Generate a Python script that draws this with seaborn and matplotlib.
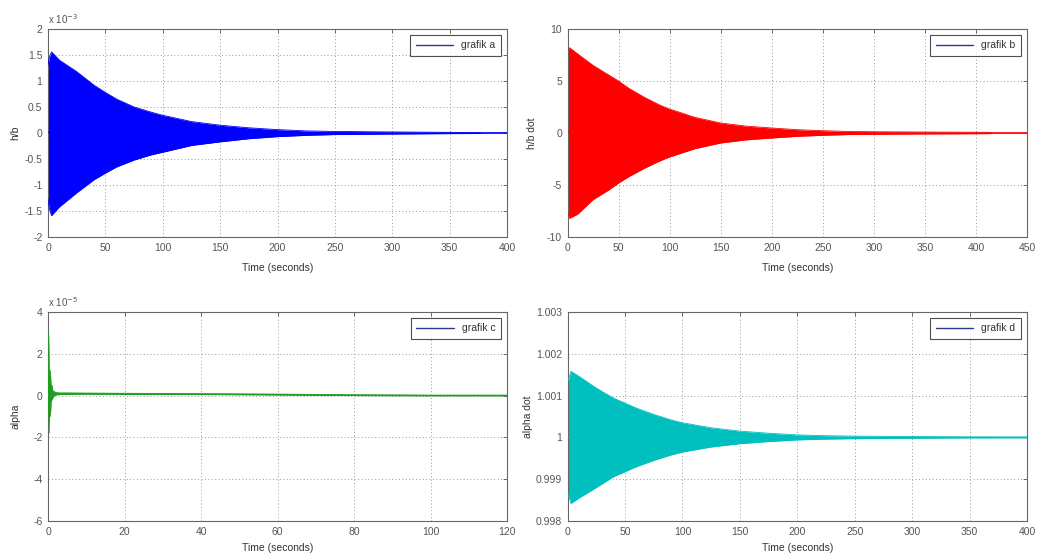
import numpy as np
import pandas as pd
import seaborn as sns
import matplotlib.pyplot as plt
from matplotlib.lines import Line2D
from matplotlib.ticker import FuncFormatter

# envelope values (upper / lower edge of the dense oscillation)
t_a = [0, 1, 3, 10, 25, 40, 50, 60, 75, 90, 100, 125, 150, 175, 200, 225, 250, 300, 350, 376, 378, 400]
up_a = [1.31, 1.45, 1.56, 1.40, 1.18, 0.92, 0.78, 0.65, 0.50, 0.40, 0.34, 0.22, 0.15, 0.10, 0.065, 0.04, 0.03, 0.02, 0.012, 0.01, 0.0, 0.0]
lo_a = [-1.27, -1.45, -1.59, -1.42, -1.15, -0.90, -0.77, -0.65, -0.52, -0.42, -0.37, -0.24, -0.17, -0.11, -0.07, -0.045, -0.03, -0.02, -0.012, -0.01, 0.0, 0.0]

t_b = [0, 2, 10, 25, 40, 50, 60, 75, 90, 100, 125, 150, 175, 200, 225, 250, 275, 300, 350, 400, 414, 416, 450]
up_b = [7.9, 8.2, 7.6, 6.5, 5.6, 5.0, 4.3, 3.45, 2.7, 2.3, 1.5, 0.96, 0.66, 0.48, 0.32, 0.22, 0.15, 0.12, 0.09, 0.07, 0.06, 0.0, 0.0]
lo_b = [-7.6, -8.2, -7.8, -6.4, -5.5, -4.8, -4.2, -3.4, -2.7, -2.3, -1.5, -0.96, -0.66, -0.48, -0.32, -0.22, -0.15, -0.12, -0.09, -0.07, -0.06, 0.0, 0.0]

t_c = [0, 0.15, 0.3, 0.45, 0.6, 0.8, 1.0, 1.3, 1.6, 2, 3, 5, 10, 20, 40, 60, 80, 100, 120]
up_c = [0.0, 3.0, 1.2, 0.5, 1.2, 0.4, 0.5, 0.2, 0.2, 0.15, 0.13, 0.13, 0.12, 0.11, 0.09, 0.07, 0.04, 0.02, 0.02]
lo_c = [0.0, -0.5, -1.8, -0.4, -1.0, -0.3, -0.2, -0.1, 0.0, 0.03, 0.05, 0.06, 0.07, 0.06, 0.05, 0.03, 0.0, -0.01, -0.01]

t_d = [0, 1, 3, 10, 25, 40, 50, 60, 75, 90, 100, 125, 150, 175, 200, 225, 250, 300, 350, 400]
up_d = [1.0013, 1.0014, 1.00158, 1.00146, 1.00118, 1.00094, 1.00082, 1.0007, 1.00055, 1.00042, 1.00035, 1.00023,
        1.00015, 1.0001, 1.00006, 1.00004, 1.00003, 1.00002, 1.000012, 1.00001]
lo_d = [0.9987, 0.9986, 0.99842, 0.99855, 0.9988, 0.99906, 0.99918, 0.9993, 0.99945, 0.99958, 0.99965, 0.99977,
        0.99985, 0.9999, 0.99994, 0.99996, 0.99997, 0.99998, 0.999988, 0.99999]

panels = [
    ("grafik a", "h/b", t_a, up_a, lo_a, "#0000ff", (0, 400), (-2, 2), 50, 0.5, "x 10$^{-3}$", -0.061),
    ("grafik b", "h/b dot", t_b, up_b, lo_b, "#ff0000", (0, 450), (-10, 10), 50, 5, None, -0.066),
    ("grafik c", "alpha", t_c, up_c, lo_c, "#1e9e1e", (0, 120), (-6, 4), 20, 2, "x 10$^{-5}$", -0.061),
    ("grafik d", "alpha dot", t_d, up_d, lo_d, "#00bfbf", (0, 400), (0.998, 1.003), 50, 0.001, None, -0.075),
]

sns.set_theme(style="white")
plt.rcParams["font.family"] = ["Liberation Sans Narrow", "Liberation Sans", "DejaVu Sans"]
plt.rcParams["axes.unicode_minus"] = False

fig = plt.figure(figsize=(10.4, 5.58), dpi=100)
boxes = [
    [0.0462, 0.5753, 0.4413, 0.3727],
    [0.5457, 0.5753, 0.4418, 0.3727],
    [0.0462, 0.0663, 0.4413, 0.3746],
    [0.5457, 0.0663, 0.4418, 0.3746],
]
xlab_y = [-0.125, -0.125, -0.105, -0.105]

fs = 7.5
for i, (box, panel) in enumerate(zip(boxes, panels)):
    name, ylab, t, up, lo, col, xl, yl, xstep, ystep, expo, ylx = panel
    ax = fig.add_axes(box)
    df = pd.DataFrame({"t": t, "up": up, "lo": lo})
    df["mid"] = (df["up"] + df["lo"]) / 2
    ax.fill_between(df["t"], df["lo"], df["up"], color=col, lw=0, zorder=2)
    sns.lineplot(data=df, x="t", y="up", ax=ax, color=col, lw=0.6, zorder=3)
    sns.lineplot(data=df, x="t", y="lo", ax=ax, color=col, lw=0.6, zorder=3)
    sns.lineplot(data=df, x="t", y="mid", ax=ax, color=col, lw=0.8, zorder=3)

    ax.set_xlim(*xl)
    ax.set_ylim(*yl)
    ax.set_xticks(np.arange(xl[0], xl[1] + 1e-9, xstep))
    ax.set_yticks(np.arange(yl[0], yl[1] + ystep / 2, ystep))
    ax.yaxis.set_major_formatter(FuncFormatter(lambda v, p: "%g" % round(v, 6)))
    ax.xaxis.set_major_formatter(FuncFormatter(lambda v, p: "%g" % v))
    ax.grid(True, linestyle=(0, (1, 2.5)), color="#999999", lw=0.7, zorder=1)
    ax.tick_params(direction="in", length=3, width=0.6, colors="#555555",
                   labelsize=fs, labelcolor="#555555", top=True, right=True, pad=4)
    for s in ax.spines.values():
        s.set_color("#666666")
        s.set_linewidth(0.8)
    ax.set_xlabel("Time (seconds)", fontsize=fs, color="#333333")
    ax.set_ylabel(ylab, fontsize=fs, color="#333333")
    ax.xaxis.set_label_coords(0.5, xlab_y[i])
    ax.yaxis.set_label_coords(ylx, 0.5)
    if expo:
        ax.text(0.0, 1.015, expo, transform=ax.transAxes, fontsize=fs - 0.5,
                color="#555555", ha="left", va="bottom")
    h = Line2D([], [], color="#2b3990", lw=1)
    leg = ax.legend([h], [name], loc="upper right", fontsize=fs, handlelength=3.6,
                    frameon=True, fancybox=False, borderpad=0.5, borderaxespad=0.6)
    leg.get_frame().set_edgecolor("#222222")
    leg.get_frame().set_linewidth(0.8)
    for txt in leg.get_texts():
        txt.set_color("#333333")

fig.savefig("out.png", dpi=100)
